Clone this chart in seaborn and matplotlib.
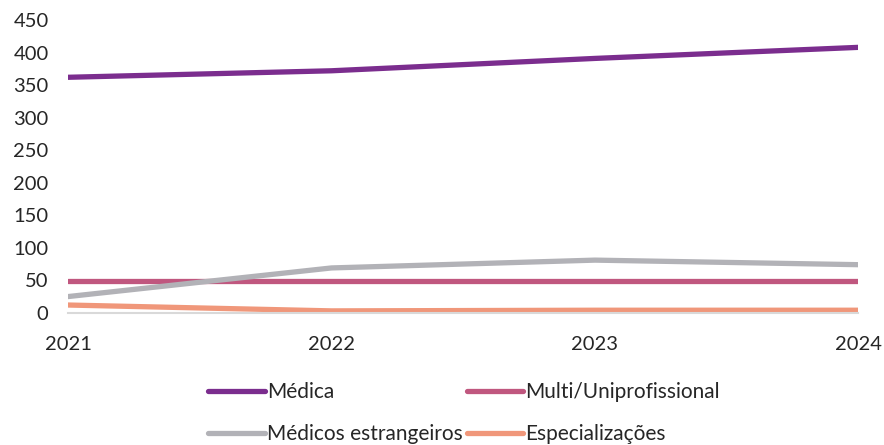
import pandas as pd
import matplotlib.pyplot as plt
import seaborn as sns

years = ["2021", "2022", "2023", "2024"]
medica = [362, 372, 391, 408]
multi = [49, 49, 49, 49]
estrangeiros = [25, 69, 81, 74]
especializacoes = [12, 3, 4, 4]

series = ["Médica", "Multi/Uniprofissional", "Médicos estrangeiros", "Especializações"]
colors = ["#7B2D8E", "#C0577F", "#B2B2B7", "#F0977A"]

df = pd.DataFrame({
    "ano": years * 4,
    "valor": medica + multi + estrangeiros + especializacoes,
    "serie": [s for s in series for _ in years],
})

sns.set_theme(style="white")
plt.rcParams["font.family"] = ["Lato", "DejaVu Sans"]

fig = plt.figure(figsize=(8.84, 4.45), dpi=100)
ax = fig.add_axes([0.077, 0.297, 0.894, 0.658])

sns.lineplot(data=df, x="ano", y="valor", hue="serie", palette=colors,
             hue_order=series, linewidth=3.8, ax=ax, sort=False, legend=False)
for line in ax.lines:
    line.set_solid_capstyle("round")

ax.set_ylim(0, 450)
ax.set_yticks(range(0, 451, 50))
ax.set_xlim(-0.0, 3.0)
ax.set_xlabel("")
ax.set_ylabel("")
ax.tick_params(axis="both", labelsize=14.5, colors="#262626", length=0)
ax.tick_params(axis="y", pad=14)
ax.tick_params(axis="x", pad=17)
for s in ["top", "right", "left"]:
    ax.spines[s].set_visible(False)
ax.spines["bottom"].set_color("#D9D9D9")
ax.spines["bottom"].set_linewidth(1.5)
ax.grid(False)

# legend fills column-wise; reorder so rows read Médica | Multi, Estrangeiros | Especializações
order = [0, 2, 1, 3]
handles = [ax.lines[i] for i in order]
labels = [series[i] for i in order]
fig.legend(handles, labels, ncol=2, loc="upper left", bbox_to_anchor=(0.224, 0.164),
           frameon=False, fontsize=15, handlelength=2.7, handletextpad=0.1,
           columnspacing=0.2, labelspacing=1.05, borderpad=0)

fig.savefig("out.png", dpi=100)
